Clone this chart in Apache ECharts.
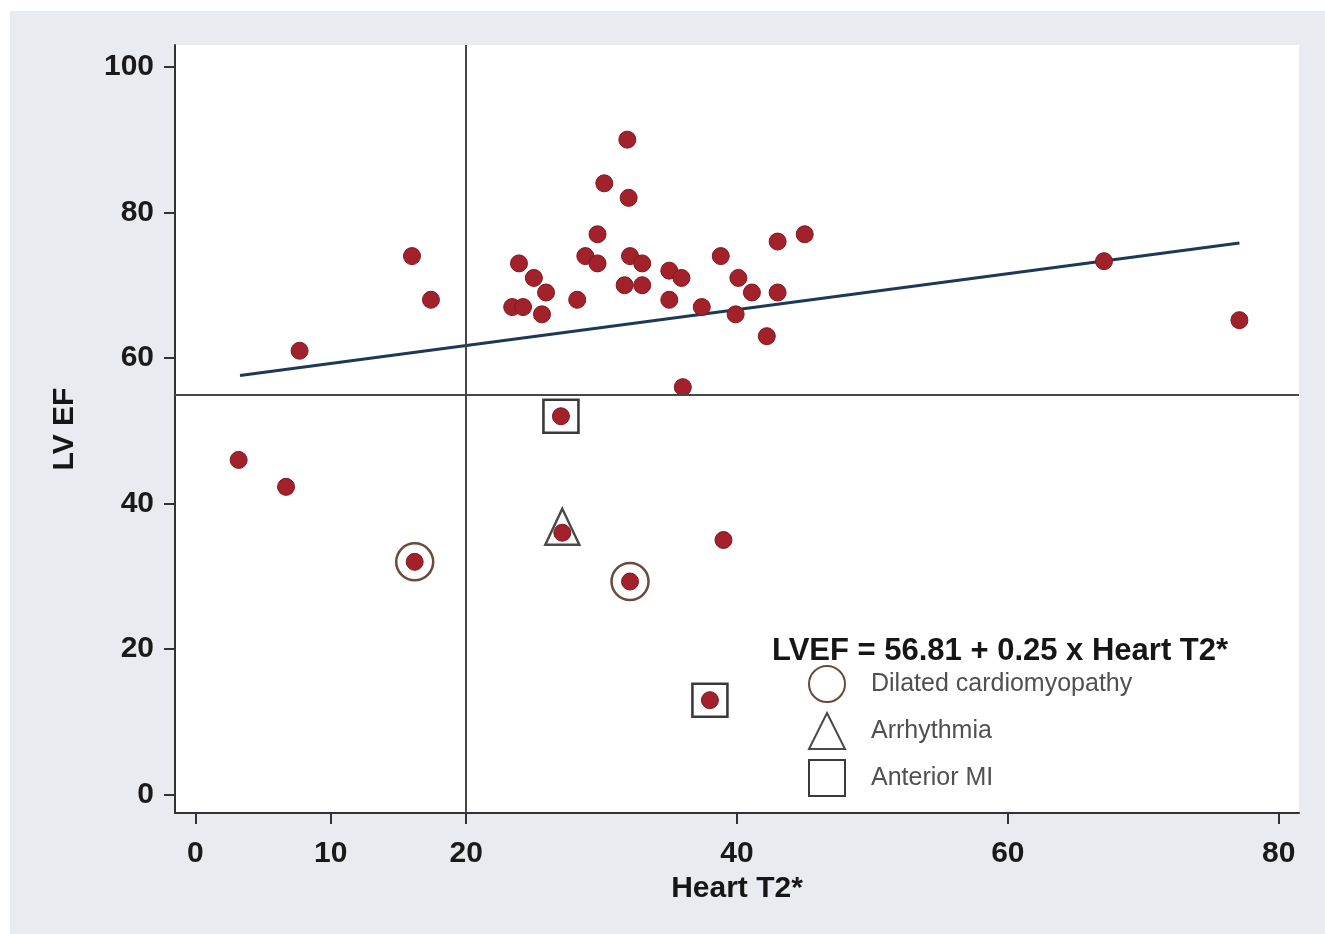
<!DOCTYPE html>
<html>
<head>
<meta charset="utf-8">
<script src="https://cdn.jsdelivr.net/npm/echarts@6/dist/echarts.min.js"></script>
<style>html,body{margin:0;padding:0;background:#fff}#c{width:1325px;height:934px}</style>
</head>
<body>
<div id="c"></div>
<script>
// ---- data ----
const heartT2 = [3.2, 6.7, 7.7, 16.0, 17.4, 16.2, 23.4, 24.2, 23.9, 25.0, 25.9, 25.6, 27.0, 27.1, 28.2,
                 28.8, 29.7, 29.7, 30.2, 31.9, 32.0, 32.1, 33.0, 31.7, 33.0, 32.1, 35.0, 35.9, 35.0, 36.0,
                 37.4, 38.8, 39.0, 38.0, 40.1, 39.9, 41.1, 42.2, 43.0, 43.0, 45.0, 67.1, 77.1];
const lvEF    = [46, 42.3, 61, 74, 68, 32, 67, 67, 73, 71, 69, 66, 52, 36, 68,
                 74, 73, 77, 84, 90, 82, 74, 73, 70, 70, 29.3, 72, 71, 68, 56,
                 67, 74, 35, 13, 71, 66, 69, 63, 69, 76, 77, 73.3, 65.2];
const dilatedCM  = [[16.2, 32], [32.1, 29.3]];
const arrhythmia = [[27.1, 36]];
const anteriorMI = [[27.0, 52], [38.0, 13]];
const fitLine    = [[3.3, 57.6], [77.1, 75.8]];
const refX = 20;
const refY = 55;
const xTicks = [0, 10, 20, 40, 60, 80];
const yTicks = [0, 20, 40, 60, 80, 100];
const equationText = 'LVEF = 56.81 + 0.25 x Heart T2*';
const legendNames = ['Dilated cardiomyopathy', 'Arrhythmia', 'Anterior MI'];

const points = heartT2.map((x, i) => [x, lvEF[i]]);
const FONT = 'Liberation Sans, Arial, sans-serif';
const chart = echarts.init(document.getElementById('c'), null, {renderer: 'canvas'});

chart.setOption({
  animation: false,
  backgroundColor: '#e8ecf1',
  graphic: [
    {type: 'rect', left: 0, top: 0, shape: {width: 1325, height: 11}, style: {fill: '#ffffff'}, silent: true},
    {type: 'rect', left: 0, top: 0, shape: {width: 10, height: 934}, style: {fill: '#ffffff'}, silent: true}
  ],
  title: {
    text: equationText,
    left: 767, top: 631,
    textStyle: {fontFamily: FONT, fontSize: 31, fontWeight: 'bold', color: '#161616'}
  },
  legend: {
    data: legendNames,
    orient: 'vertical',
    left: 803, top: 660,
    itemWidth: 36, itemHeight: 36, itemGap: 9,
    textStyle: {fontFamily: FONT, fontSize: 25, color: '#505050', padding: [0, 0, 0, 21]},
    selectedMode: false
  },
  grid: {
    left: 175, right: 26, top: 45, bottom: 121,
    show: true, backgroundColor: '#ffffff', borderWidth: 0
  },
  xAxis: {
    type: 'value', min: -1.5, max: 81.5,
    name: 'Heart T2*', nameLocation: 'middle', nameGap: 55,
    nameTextStyle: {fontFamily: FONT, fontSize: 30, fontWeight: 'bold', color: '#161616'},
    axisLine: {show: true, onZero: false, lineStyle: {color: '#333', width: 2}},
    axisTick: {show: true, customValues: xTicks, length: 11, lineStyle: {color: '#333', width: 2}},
    axisLabel: {customValues: xTicks, margin: 26, fontFamily: FONT, fontSize: 30, fontWeight: 'bold', color: '#1a1a1a'},
    splitLine: {show: false}
  },
  yAxis: {
    type: 'value', min: -2.5, max: 103,
    name: 'LV EF', nameLocation: 'middle', nameGap: 95, nameRotate: 90,
    nameTextStyle: {fontFamily: FONT, fontSize: 30, fontWeight: 'bold', color: '#161616'},
    axisLine: {show: true, onZero: false, lineStyle: {color: '#333', width: 2}},
    axisTick: {show: true, customValues: yTicks, length: 11, lineStyle: {color: '#333', width: 2}},
    axisLabel: {customValues: yTicks, margin: 21, fontFamily: FONT, fontSize: 30, fontWeight: 'bold', color: '#1a1a1a'},
    splitLine: {show: false}
  },
  series: [
    {
      type: 'line', data: [], silent: true,
      markLine: {
        silent: true, symbol: 'none', label: {show: false},
        lineStyle: {color: '#474747', width: 2, type: 'solid'},
        data: [{xAxis: refX}, {yAxis: refY}]
      }
    },
    {
      type: 'line', data: fitLine, symbol: 'none', silent: true,
      lineStyle: {color: '#1c3955', width: 3}, z: 3
    },
    {
      type: 'scatter', data: points, symbol: 'circle', symbolSize: 17,
      itemStyle: {color: '#a3212a', borderColor: '#7d1a20', borderWidth: 1, opacity: 1}, z: 4
    },
    {
      name: legendNames[0], type: 'scatter', data: dilatedCM, symbol: 'circle', symbolSize: 37,
      itemStyle: {color: 'rgba(0,0,0,0)', borderColor: '#6a4a3a', borderWidth: 2.5, opacity: 1}, z: 5
    },
    {
      name: legendNames[1], type: 'scatter', data: arrhythmia, symbol: 'triangle', symbolSize: [34, 36],
      symbolOffset: [0, -6],
      itemStyle: {color: 'rgba(0,0,0,0)', borderColor: '#4a4a4a', borderWidth: 2.5, opacity: 1}, z: 5
    },
    {
      name: legendNames[2], type: 'scatter', data: anteriorMI, symbol: 'rect', symbolSize: [35, 33],
      itemStyle: {color: 'rgba(0,0,0,0)', borderColor: '#3a3a3a', borderWidth: 2.5, opacity: 1}, z: 5
    }
  ]
});
</script>
</body>
</html>
